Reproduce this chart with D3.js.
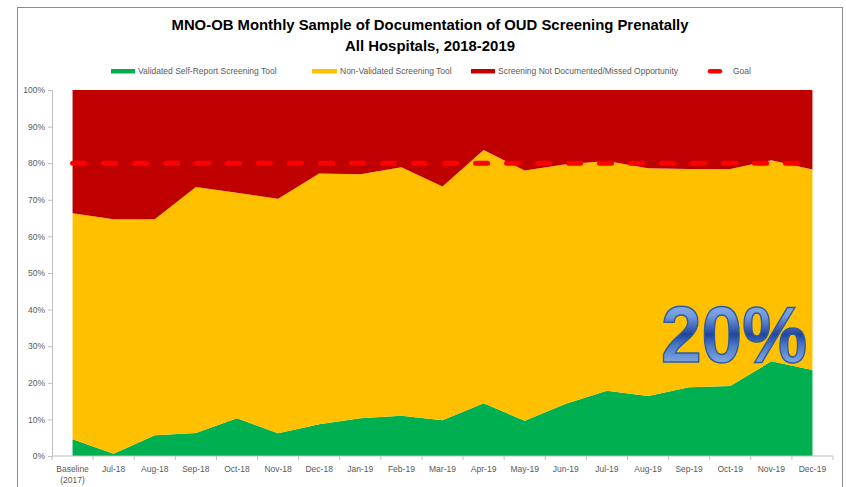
<!DOCTYPE html>
<html>
<head>
<meta charset="utf-8">
<script src="https://cdn.jsdelivr.net/npm/d3@7"></script>
<style>
  body { margin: 0; background: #fff; }
  svg { display: block; }
  text { font-family: 'Liberation Sans', Arial, sans-serif; }
</style>
</head>
<body>
<div id="viz"></div>
<script>
// values, in percent
const categories = ["Baseline (2017)", "Jul-18", "Aug-18", "Sep-18", "Oct-18", "Nov-18", "Dec-18",
  "Jan-19", "Feb-19", "Mar-19", "Apr-19", "May-19", "Jun-19", "Jul-19", "Aug-19", "Sep-19",
  "Oct-19", "Nov-19", "Dec-19"];
const validated = [4.6, 0.6, 5.7, 6.3, 10.3, 6.2, 8.7, 10.3, 11.0, 9.8, 14.4, 9.6, 14.3, 17.8, 16.4, 18.8, 19.1, 25.9, 23.5];
const nonValidated = [61.7, 64.1, 59.0, 67.2, 61.6, 64.1, 68.5, 66.7, 67.9, 63.8, 69.2, 68.4, 65.4, 62.8, 62.2, 59.6, 59.3, 54.9, 54.8];
const missed = [33.7, 35.3, 35.3, 26.5, 28.1, 29.7, 22.8, 23.0, 21.1, 26.4, 16.4, 22.0, 20.3, 19.4, 21.4, 21.6, 21.6, 19.2, 21.7];
const goal = [80, 80, 80, 80, 80, 80, 80, 80, 80, 80, 80, 80, 80, 80, 80, 80, 80, 80, 80];
const yTicks = [0, 0.1, 0.2, 0.3, 0.4, 0.5, 0.6, 0.7, 0.8, 0.9, 1];

const seriesNames = {
  validated: "Validated Self-Report Screening Tool",
  nonValidated: "Non-Validated Screening Tool",
  missed: "Screening Not Documented/Missed Opportunity"
};
const colors = { validated: "#00B050", nonValidated: "#FFC000", missed: "#C00000" };

const width = 846;
const height = 487;

const svg = d3.select('#viz')
  .append("svg")
  .attr("width", width)
  .attr("height", height);

// outer frame
svg.append("rect")
  .attr("x", 17.5).attr("y", 7.5)
  .attr("width", 825).attr("height", 500)
  .attr("fill", "none")
  .attr("stroke", "#8c8c8c");

// title
const title = svg.append("g").attr("font-weight", "bold").attr("text-anchor", "middle").attr("fill", "#000");
title.append("text")
  .attr("x", 430).attr("y", 30)
  .attr("font-size", 15)
  .attr("textLength", 517).attr("lengthAdjust", "spacingAndGlyphs")
  .text("MNO-OB Monthly Sample of Documentation of OUD Screening Prenatally");
title.append("text")
  .attr("x", 430).attr("y", 51)
  .attr("font-size", 15)
  .attr("textLength", 170).attr("lengthAdjust", "spacingAndGlyphs")
  .text("All Hospitals, 2018-2019");

const x = d3.scaleBand().domain(categories).range([52, 833]);
const cx = c => x(c) + x.bandwidth() / 2;
const y = d3.scaleLinear().domain([0, 1]).range([456, 90]);

const table = categories.map((c, i) => ({
  cat: c,
  validated: validated[i] / 100,
  nonValidated: nonValidated[i] / 100,
  missed: missed[i] / 100,
  goal: goal[i] / 100
}));

const stack = d3.stack().keys(["validated", "nonValidated", "missed"]);
const layers = stack(table);

const area = d3.area()
  .x(d => cx(d.data.cat))
  .y0(d => y(d[0]))
  .y1(d => y(Math.min(d[1], 1)));

svg.append("g")
  .selectAll("path")
  .data(layers)
  .enter().append("path")
  .attr("d", area)
  .attr("fill", d => colors[d.key]);

// axes
const yAxis = svg.append("g")
  .attr("transform", "translate(52,0)")
  .call(d3.axisLeft(y).tickValues(yTicks).tickFormat(d3.format(".0%")).tickSize(4).tickPadding(3));
yAxis.selectAll("path, line").attr("stroke", "#bfbfbf");
yAxis.selectAll("text").attr("font-size", 8.5).attr("fill", "#595959")
  .style("font-family", "'Liberation Sans', Arial, sans-serif");

const xAxis = svg.append("g").attr("transform", "translate(0,456)");
xAxis.append("line")
  .attr("x1", 52).attr("x2", 833)
  .attr("stroke", "#bfbfbf");
xAxis.selectAll(".tick")
  .data(categories.map(c => x(c)).concat([833]))
  .enter().append("line")
  .attr("x1", d => d).attr("x2", d => d)
  .attr("y1", 0).attr("y2", 4)
  .attr("stroke", "#bfbfbf");
const xLabels = xAxis.selectAll(".lbl")
  .data(categories)
  .enter().append("text")
  .attr("x", d => cx(d))
  .attr("y", 16)
  .attr("text-anchor", "middle")
  .attr("font-size", 8.5)
  .attr("fill", "#595959");
xLabels.each(function (d) {
  const parts = d.split(" ");
  const t = d3.select(this);
  parts.forEach((p, i) => {
    t.append("tspan").attr("x", cx(d)).attr("dy", i === 0 ? 0 : 11).text(p);
  });
});

// goal line
const goalLine = d3.line()
  .x(d => cx(d.cat))
  .y(d => y(d.goal));
svg.append("path")
  .datum(table)
  .attr("d", goalLine)
  .attr("fill", "none")
  .attr("stroke", "#FF0000")
  .attr("stroke-width", 5)
  .attr("stroke-linecap", "round")
  .attr("stroke-dasharray", "12,19");

// big "20%" word art
const defs = svg.append("defs");
const grad = defs.append("linearGradient")
  .attr("id", "blueArt")
  .attr("x1", 0).attr("y1", 0).attr("x2", 0).attr("y2", 1);
[["0%", "#a9c8f0"], ["30%", "#6f98dc"], ["50%", "#1f45a0"], ["62%", "#4a78c8"], ["100%", "#b3d0f5"]]
  .forEach(s => grad.append("stop").attr("offset", s[0]).attr("stop-color", s[1]));

svg.append("text")
  .attr("x", 661).attr("y", 362)
  .attr("font-size", 80)
  .attr("font-weight", "bold")
  .attr("textLength", 146).attr("lengthAdjust", "spacingAndGlyphs")
  .attr("fill", "url(#blueArt)")
  .attr("stroke", "#2f5b9e")
  .attr("stroke-width", 1.5)
  .text("20%");

// legend
const legendItems = [
  { key: "validated", sx: 111, sw: 24, tx: 138 },
  { key: "nonValidated", sx: 312, sw: 25, tx: 340 },
  { key: "missed", sx: 471, sw: 24, tx: 498 }
];
const legend = svg.append("g");
legend.selectAll("rect")
  .data(legendItems)
  .enter().append("rect")
  .attr("x", d => d.sx).attr("y", 69)
  .attr("width", d => d.sw).attr("height", 4.5)
  .attr("fill", d => colors[d.key]);
legend.selectAll("text")
  .data(legendItems)
  .enter().append("text")
  .attr("x", d => d.tx).attr("y", 74)
  .attr("font-size", 8.5)
  .attr("fill", "#595959")
  .text(d => seriesNames[d.key]);
legend.append("line")
  .attr("x1", 710).attr("x2", 720)
  .attr("y1", 71.2).attr("y2", 71.2)
  .attr("stroke", "#FF0000")
  .attr("stroke-width", 4.5)
  .attr("stroke-linecap", "round");
legend.append("text")
  .attr("x", 733).attr("y", 74)
  .attr("font-size", 8.5)
  .attr("fill", "#595959")
  .text("Goal");
</script>
</body>
</html>
